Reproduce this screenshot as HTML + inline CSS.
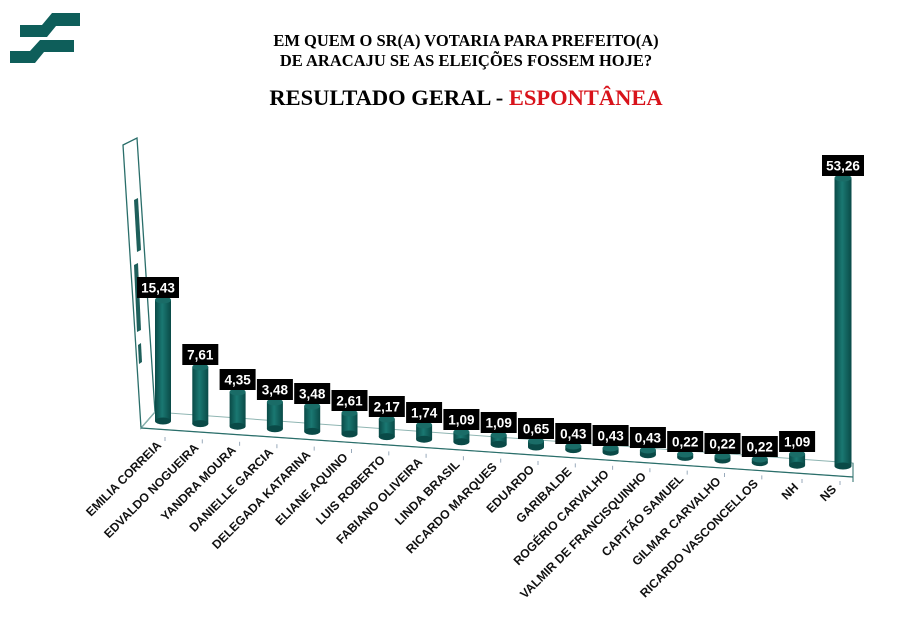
<!DOCTYPE html>
<html><head><meta charset="utf-8"><style>
body{margin:0;background:#fff;width:922px;height:637px;overflow:hidden}
svg{display:block}
.t{font-family:"Liberation Serif",serif;font-weight:bold}
.l{font-family:"Liberation Sans",sans-serif;font-weight:bold;font-size:12.2px;fill:#111}
.v{font-family:"Liberation Sans",sans-serif;font-weight:bold;font-size:13.5px;fill:#fff}
</style></head><body>
<svg width="922" height="637" viewBox="0 0 922 637">
<defs>
<linearGradient id="g" x1="0" x2="1" y1="0" y2="0">
<stop offset="0" stop-color="#0a4a47"/><stop offset="0.45" stop-color="#1a7872"/><stop offset="1" stop-color="#0a4a47"/>
</linearGradient>
</defs>
<polygon points="20,25 42,25 52,13 80,13 80,26 56,26 47,37 20,37" fill="#0e5e5a"/>
<polygon points="10,51 30,51 40,40 74,40 74,52 44,52 35,63 10,63" fill="#0e5e5a"/>
<text class="t" x="466" y="46" text-anchor="middle" font-size="16.5">EM QUEM O SR(A) VOTARIA PARA PREFEITO(A)</text>
<text class="t" x="466" y="66" text-anchor="middle" font-size="16.5">DE ARACAJU SE AS ELEIÇÕES FOSSEM HOJE?</text>
<text class="t" x="466" y="105" text-anchor="middle" font-size="22.5">RESULTADO GERAL - <tspan fill="#d8131b">ESPONTÂNEA</tspan></text>
<polygon points="123,145 137,138 155,412 141,428" fill="none" stroke="#2a6e6a" stroke-width="1.3"/>
<polygon points="134,200 138,198 141,250 137,252" fill="#1e5f5b"/>
<polygon points="134,265 138,263 141,330 137,332" fill="#1e5f5b"/>
<polygon points="138,345 141,343 142,362 139,364" fill="#1e5f5b"/>
<polygon points="141,428 155,412 853,463 853,477" fill="none" stroke="#8fb5b2" stroke-width="1"/>
<line x1="141" y1="428" x2="853" y2="477" stroke="#2a6e6a" stroke-width="1.2"/>
<line x1="853" y1="463" x2="853" y2="482" stroke="#2a6e6a" stroke-width="1"/>
<g id="bars"></g>
<g id="labs"></g>
</svg>
<script>
var d=[["EMILIA CORREIA","15,43",300],["EDVALDO NOGUEIRA","7,61",367],["YANDRA MOURA","4,35",392],["DANIELLE GARCIA","3,48",402],["DELEGADA KATARINA","3,48",406],["ELIANE AQUINO","2,61",413],["LUIS ROBERTO","2,17",419],["FABIANO OLIVEIRA","1,74",425],["LINDA BRASIL","1,09",432],["RICARDO MARQUES","1,09",435],["EDUARDO","0,65",441],["GARIBALDE","0,43",446],["ROGÉRIO CARVALHO","0,43",448],["VALMIR DE FRANCISQUINHO","0,43",450],["CAPITÃO SAMUEL","0,22",454],["GILMAR CARVALHO","0,22",456],["RICARDO VASCONCELLOS","0,22",459],["NH","1,09",454],["NS","53,26",178]];
var ns="http://www.w3.org/2000/svg",b=document.getElementById("bars"),L=document.getElementById("labs");
function el(p,t,a,txt){var e=document.createElementNS(ns,t);for(var k in a)e.setAttribute(k,a[k]);if(txt)e.textContent=txt;p.appendChild(e);return e;}
d.forEach(function(r,i){
 var cx=163+i*37.3, bot=421+i*2.6, top=r[2], rw=8;
 if(i==18){cx=843;bot=466;rw=8.5}
 el(b,"rect",{x:cx-rw,y:top,width:2*rw,height:bot-top,fill:"url(#g)"});
 el(b,"ellipse",{cx:cx,cy:bot,rx:rw,ry:3.5,fill:"#0a4a47"});
 el(b,"ellipse",{cx:cx,cy:top,rx:rw,ry:3.5,fill:"#1a6c67"});
 var w=r[1].length>4?42:36, ly=top-23, ox=(i==0?-5:0);
 el(b,"rect",{x:cx-w/2+ox,y:ly,width:w,height:21,fill:"#000"});
 el(b,"text",{class:"v",x:cx+ox,y:ly+15.5,"text-anchor":"middle"},r[1]);
 var tx=162+i*37.3, ty=446+i*2.4;
 if(i==17){tx=799;ty=488}
 if(i==18){tx=837;ty=490}
 el(L,"line",{x1:tx+3,y1:ty-9,x2:tx+3,y2:ty-5,stroke:"#9ab"});
 el(L,"text",{class:"l",x:tx,y:ty,"text-anchor":"end",transform:"rotate(-45 "+tx+" "+ty+")"},r[0]);
});
</script>
</body></html>
